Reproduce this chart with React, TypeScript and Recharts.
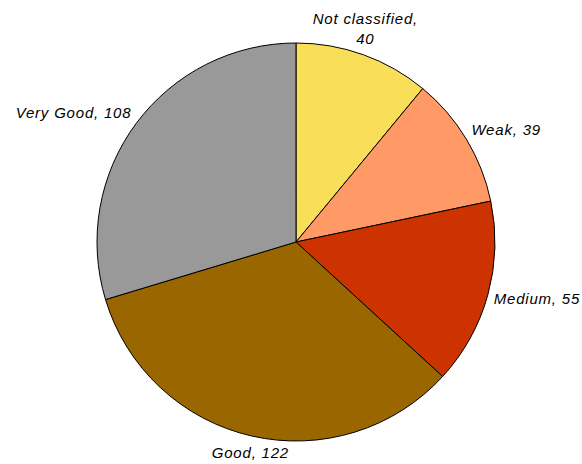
import { PieChart, Pie, Cell } from "recharts";

const categories = ["Not classified", "Weak", "Medium", "Good", "Very Good"];
const counts = [40, 39, 55, 122, 108];
const colors = ["#F9DF59", "#FF9966", "#CC3300", "#996600", "#999999"];

const data = categories.map((name, i) => ({ name, value: counts[i] }));

const RAD = Math.PI / 180;
const FONT = 15;
const LINE = 20;

const renderLabel = (props: any) => {
  const { cx, cy, midAngle, outerRadius, name, value } = props;
  const R = outerRadius + 6;
  const dx = Math.cos(midAngle * RAD);
  const dy = Math.sin(midAngle * RAD);
  const px = cx + R * dx;
  const py = cy - R * dy;
  const full = `${name}, ${value}`;
  const lines = full.length > 15 ? [`${name},`, `${value}`] : [full];
  const anchor = dx > 0.5 ? "start" : dx < -0.5 ? "end" : "middle";
  // baseline of the first line; labels above the pie grow upwards
  let y0 = py + 5 - dy * 11;
  if (dy > 0) y0 -= (lines.length - 1) * LINE;
  return (
    <text
      x={px}
      y={y0}
      textAnchor={anchor}
      fontFamily="'Liberation Sans', Arial, sans-serif"
      fontStyle="italic"
      fontSize={FONT}
      letterSpacing={0.8}
      fill="#000"
    >
      {lines.map((l, i) => (
        <tspan key={i} x={px} dy={i === 0 ? 0 : LINE}>
          {l}
        </tspan>
      ))}
    </text>
  );
};

export default function App() {
  return (
    <div style={{ position: "absolute", left: 0, top: 0, background: "#fff" }}>
      <PieChart width={582} height={464} margin={{ top: 0, right: 0, bottom: 0, left: 0 }}>
        <Pie
          data={data}
          dataKey="value"
          nameKey="name"
          cx={296}
          cy={242}
          outerRadius={199}
          startAngle={90}
          endAngle={-270}
          stroke="#000"
          strokeWidth={1}
          label={renderLabel}
          labelLine={false}
          isAnimationActive={false}
        >
          {data.map((d, i) => (
            <Cell key={d.name} fill={colors[i]} />
          ))}
        </Pie>
      </PieChart>
    </div>
  );
}
